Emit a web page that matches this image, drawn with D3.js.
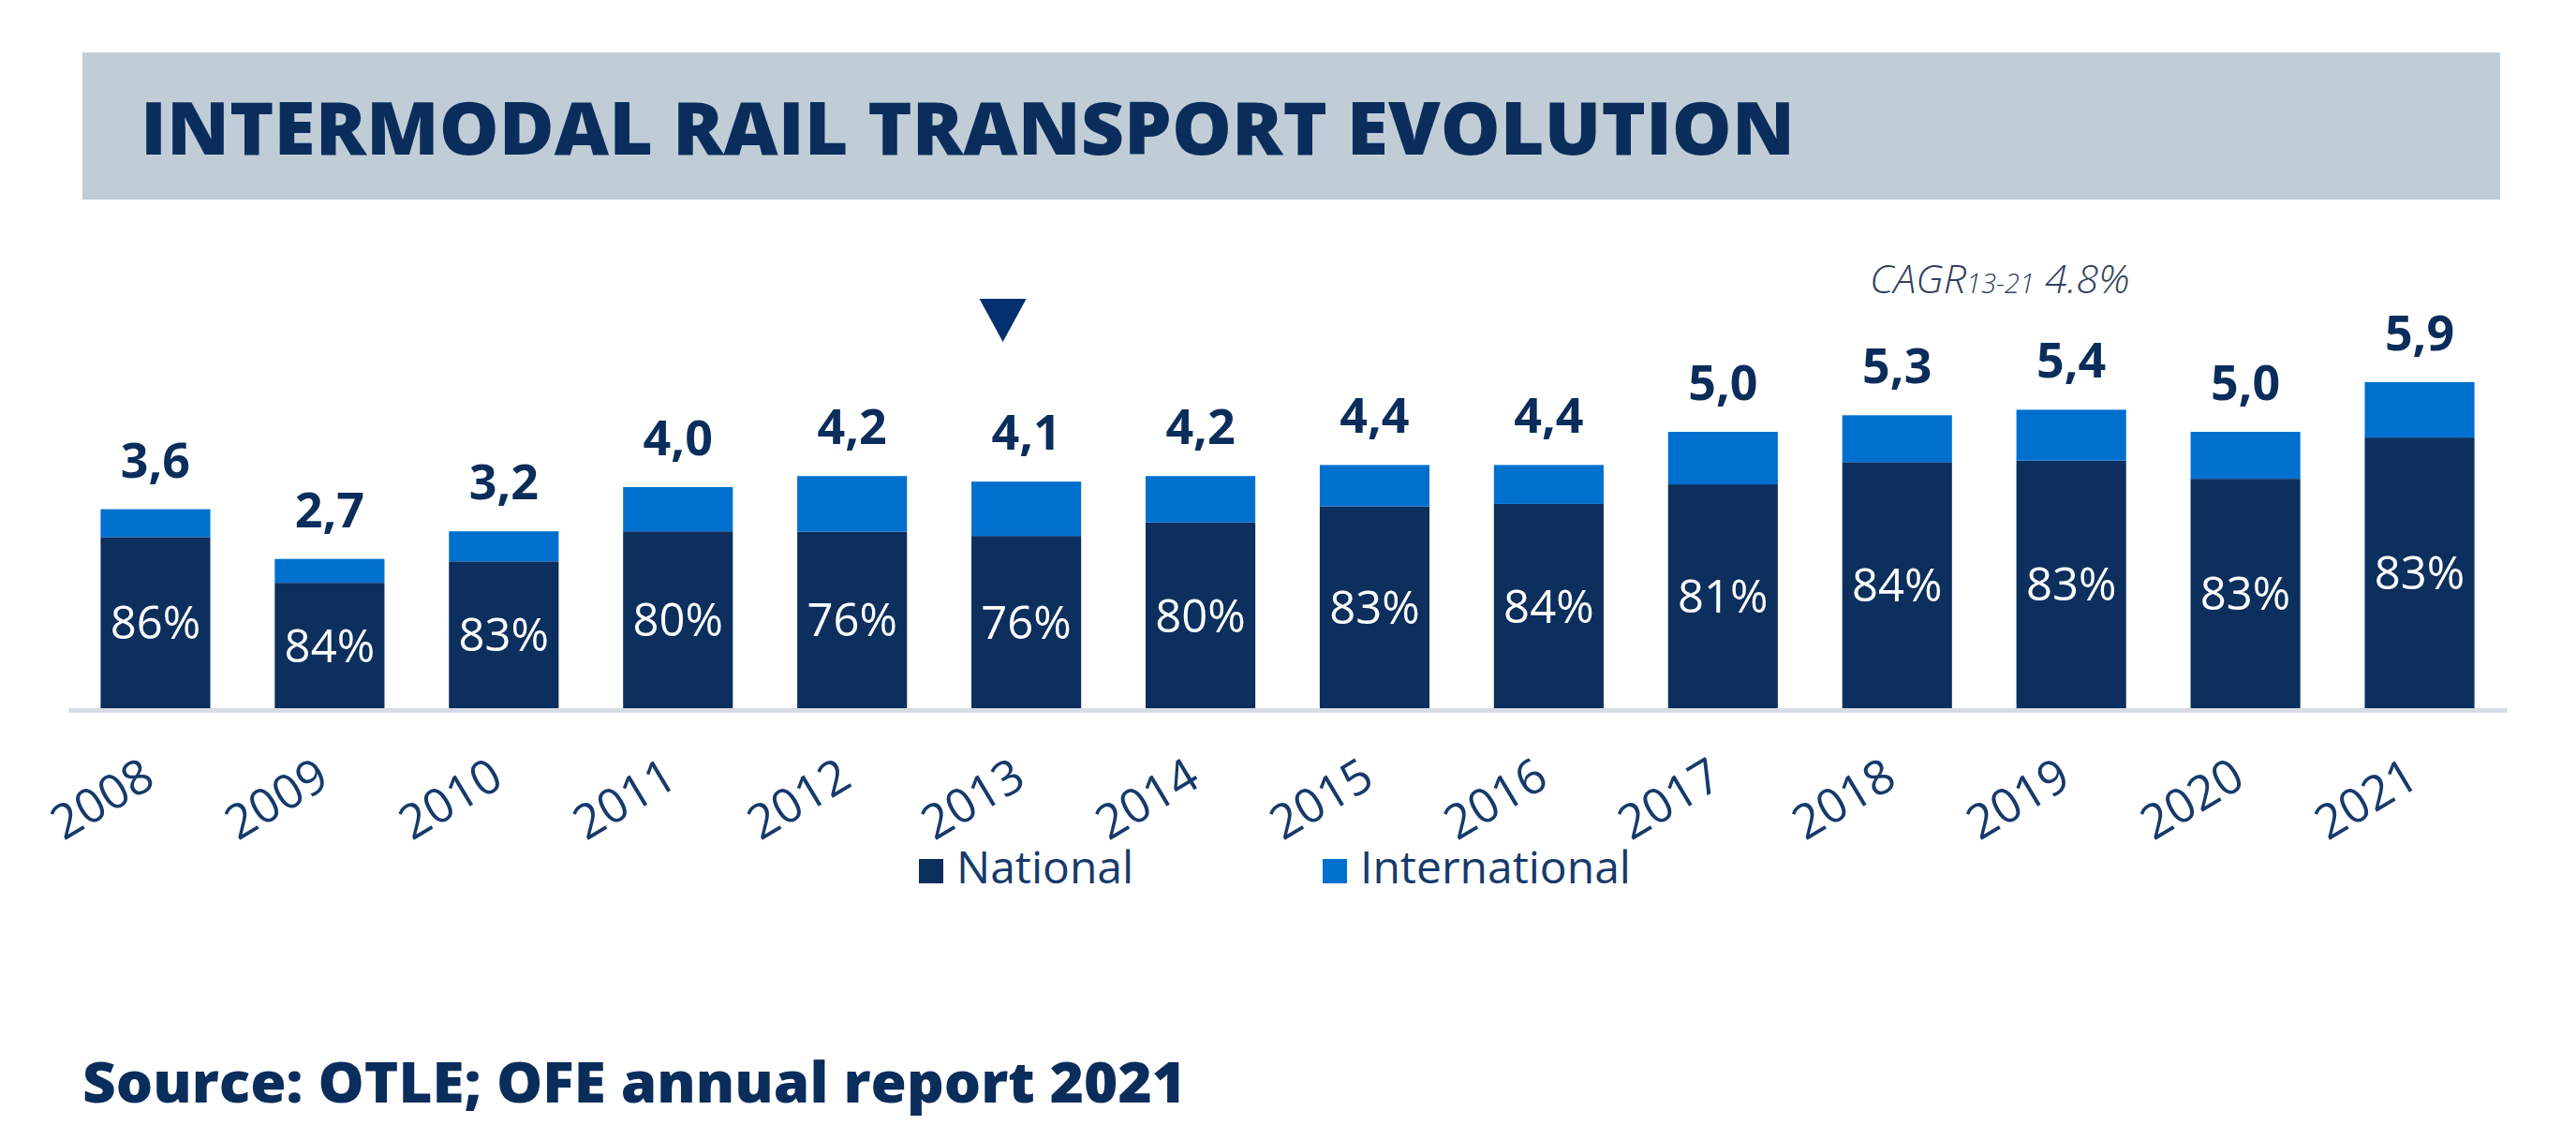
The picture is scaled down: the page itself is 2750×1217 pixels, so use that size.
<!DOCTYPE html>
<html>
<head>
<meta charset="utf-8">
<script src="https://cdn.jsdelivr.net/npm/d3@7"></script>
<style>
  html, body { margin: 0; padding: 0; background: #ffffff; }
  svg { display: block; }
</style>
</head>
<body>
<div id="chart"></div>
<script>
//data
var years = ["2008", "2009", "2010", "2011", "2012", "2013", "2014", "2015", "2016", "2017", "2018", "2019", "2020", "2021"];
var totals = [3.6, 2.7, 3.2, 4.0, 4.2, 4.1, 4.2, 4.4, 4.4, 5.0, 5.3, 5.4, 5.0, 5.9];
var nationalShare = [86, 84, 83, 80, 76, 76, 80, 83, 84, 81, 84, 83, 83, 83];
var seriesNames = ["National", "International"];
var cagrStart = "2013";

var W = 2750, H = 1217;
var navy = "#0c2f5e", blue = "#0070cf", ink = "#0b2d5b";

//build stacked rows from the arrays
var rows = years.map(function(y, i) {
  var nat = totals[i] * nationalShare[i] / 100;
  return { year: y, total: totals[i], share: nationalShare[i], National: nat, International: totals[i] - nat };
});
var stacked = d3.stack().keys(seriesNames)(rows);

var svg = d3.select("#chart").append("svg")
  .attr("width", W)
  .attr("height", H)
  .style("font-family", "'Open Sans', sans-serif");

//header band + title
svg.append("rect")
  .attr("x", 88).attr("y", 56)
  .attr("width", 2581).attr("height", 157)
  .attr("fill", "#c0cdd7");

svg.append("text")
  .attr("x", 150).attr("y", 165)
  .attr("font-size", 78)
  .attr("font-weight", 800)
  .attr("fill", ink)
  .attr("textLength", 1766)
  .attr("lengthAdjust", "spacingAndGlyphs")
  .text("INTERMODAL RAIL TRANSPORT EVOLUTION");

//scales
var x = d3.scaleBand()
  .domain(years)
  .range([73, 2676])
  .paddingInner(0.37)
  .paddingOuter(0.185);

var y = d3.scaleLinear()
  .domain([0, 6])
  .range([756, 402]);

var color = d3.scaleOrdinal().domain(seriesNames).range([navy, blue]);

//bars
var layers = svg.append("g").attr("class", "bars")
  .selectAll("g")
  .data(stacked)
  .enter()
  .append("g")
  .attr("fill", function(d) { return color(d.key); });

layers.selectAll("rect")
  .data(function(d) { return d; })
  .enter()
  .append("rect")
  .attr("x", function(d) { return x(d.data.year); })
  .attr("y", function(d) { return y(d[1]); })
  .attr("width", x.bandwidth())
  .attr("height", function(d) { return y(d[0]) - y(d[1]); });

//axis line + rotated year labels
var axis = svg.append("g")
  .attr("transform", "translate(0," + 758 + ")")
  .call(d3.axisBottom(x).tickSize(0).tickSizeOuter(0));

axis.select(".domain")
  .attr("stroke", "#d6dbe4")
  .attr("stroke-width", 5);

axis.selectAll(".tick text")
  .attr("font-family", "'Open Sans', sans-serif")
  .attr("font-size", 51)
  .attr("fill", "#163a6b")
  .attr("text-anchor", "end")
  .attr("y", 0)
  .attr("dy", 0)
  .attr("transform", "translate(2,80) rotate(-31)");

//share labels inside national segment
svg.append("g").attr("class", "shares")
  .selectAll("text")
  .data(stacked[0])
  .enter()
  .append("text")
  .attr("x", function(d) { return x(d.data.year) + x.bandwidth() / 2; })
  .attr("y", function(d) { return (y(d[0]) + y(d[1])) / 2; })
  .attr("dy", "0.36em")
  .attr("text-anchor", "middle")
  .attr("font-size", 49)
  .attr("fill", "#ffffff")
  .text(function(d) { return d.data.share + "%"; });

//totals above bars
var fmt = d3.format(".1f");
svg.append("g").attr("class", "totals")
  .selectAll("text")
  .data(rows)
  .enter()
  .append("text")
  .attr("x", function(d) { return x(d.year) + x.bandwidth() / 2; })
  .attr("y", function(d) { return y(d.total) - 34; })
  .attr("text-anchor", "middle")
  .attr("font-size", 52)
  .attr("font-weight", 700)
  .attr("fill", ink)
  .text(function(d) { return fmt(d.total).replace(".", ","); });

//marker over CAGR start year
var tx = x(cagrStart) + x.bandwidth() / 2 - 25;
svg.append("path")
  .attr("d", "M" + (tx - 25) + ",319 L" + (tx + 25) + ",319 L" + tx + ",365 Z")
  .attr("fill", "#04306f");

//CAGR note
var cagr = svg.append("text")
  .attr("x", 1996).attr("y", 313)
  .attr("font-size", 43)
  .attr("font-style", "italic")
  .attr("font-weight", 300)
  .attr("fill", "#2f3f5c");
cagr.append("tspan").text("CAGR");
cagr.append("tspan").attr("font-size", 29).text("13-21");
cagr.append("tspan").text(" 4.8%");

//legend
var legendX = [981, 1412];
var legend = svg.append("g").attr("class", "legend")
  .selectAll("g")
  .data(seriesNames)
  .enter()
  .append("g")
  .attr("transform", function(d, i) { return "translate(" + legendX[i] + ",917)"; });

legend.append("rect")
  .attr("width", 26).attr("height", 26)
  .attr("fill", function(d) { return color(d); });

legend.append("text")
  .attr("x", 40).attr("y", 26)
  .attr("font-size", 48)
  .attr("fill", "#163a6b")
  .text(function(d) { return d; });

//source
svg.append("text")
  .attr("x", 88).attr("y", 1177)
  .attr("font-size", 60)
  .attr("font-weight", 800)
  .attr("fill", ink)
  .attr("textLength", 1178)
  .attr("lengthAdjust", "spacingAndGlyphs")
  .text("Source: OTLE; OFE annual report 2021");
</script>
</body>
</html>
